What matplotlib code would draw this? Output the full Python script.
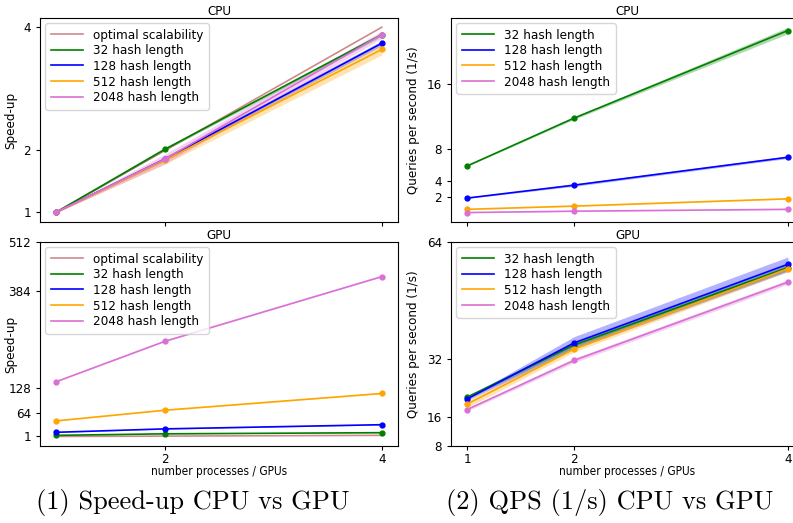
import matplotlib.pyplot as plt
import numpy as np

plt.rcParams['font.family'] = ['DejaVu Sans']
plt.rcParams['font.stretch'] = 'condensed'

procs = [1, 2, 4]
hash_labels = ['32 hash length', '128 hash length', '512 hash length', '2048 hash length']
colors = ['green', 'blue', 'orange', 'orchid']
optimal = [1, 2, 4]

# speed-up, CPU (one row per hash length)
cpu_speedup = [[1.0, 2.02, 3.88],
               [1.0, 1.86, 3.74],
               [1.0, 1.84, 3.64],
               [1.0, 1.86, 3.88]]
cpu_speedup_err = [[0.01, 0.02, 0.03],
                   [0.01, 0.03, 0.04],
                   [0.01, 0.06, 0.09],
                   [0.01, 0.08, 0.06]]

# speed-up, GPU
gpu_speedup = [[4, 8, 11],
               [12, 21, 32],
               [42, 70, 114],
               [145, 251, 421]]
gpu_speedup_err = [[0.5, 0.5, 0.5],
                   [0.5, 0.8, 1.0],
                   [0.5, 0.8, 1.0],
                   [0.5, 1.0, 1.0]]

# queries per second, CPU
cpu_qps = [[5.85, 11.77, 22.6],
           [1.88, 3.48, 6.93],
           [0.49, 0.89, 1.79],
           [0.09, 0.26, 0.49]]
cpu_qps_err = [[0.05, 0.15, 0.4],
               [0.05, 0.15, 0.15],
               [0.03, 0.05, 0.05],
               [0.02, 0.03, 0.05]]

# queries per second, GPU
gpu_qps = [[21.4, 35.7, 57.0],
           [20.9, 36.3, 57.9],
           [19.5, 34.6, 56.7],
           [18.0, 31.5, 53.0]]
gpu_qps_err = [[0.4, 0.8, 0.8],
               [0.4, 1.7, 2.0],
               [1.0, 0.8, 0.8],
               [0.4, 0.6, 0.6]]


def draw(ax, vals, errs, with_optimal):
    if with_optimal:
        ax.plot(procs, optimal, color='brown', alpha=0.55, lw=1.2, label='optimal scalability')
    for v, e, c, lab in zip(vals, errs, colors, hash_labels):
        v = np.array(v)
        e = np.array(e)
        ax.plot(procs, v, color=c, lw=1.2, label=lab)
        ax.plot(procs, v, 'o', color=c, ms=3.5)
        ax.fill_between(procs, v - e, v + e, color=c, alpha=0.3, lw=0)
    ax.legend(loc='upper left', fontsize=9.6, handlelength=2.4, labelspacing=0.2,
              borderaxespad=0.4)
    ax.tick_params(labelsize=9.5, length=3)
    ax.tick_params(axis='x', pad=2)


fig = plt.figure(figsize=(7.93, 5.23), dpi=100)
W, H = 793, 523


def box(l, r, t, b):
    return [l / W, 1 - b / H, (r - l) / W, (b - t) / H]


ax1 = fig.add_axes(box(40, 398, 18, 222))
ax2 = fig.add_axes(box(451, 804, 18, 222))
ax3 = fig.add_axes(box(40, 398, 242, 446))
ax4 = fig.add_axes(box(451, 804, 242, 446))

draw(ax1, cpu_speedup, cpu_speedup_err, True)
ax1.set_yticks([1, 2, 4])
ax1.set_xticks([2, 4])
ax1.set_xticklabels([])
ax1.set_ylabel('Speed-up', fontsize=9.5)
ax1.set_title('CPU', fontsize=9.5, pad=2)

draw(ax3, gpu_speedup, gpu_speedup_err, True)
ax3.set_ylim(-24, 512)
ax3.set_yticks([1, 64, 128, 384, 512])
ax3.set_xticks([2, 4])
ax3.set_ylabel('Speed-up', fontsize=9.5)
ax3.set_title('GPU', fontsize=9.5, pad=2)
ax3.set_xlabel('number processes / GPUs', fontsize=8.5)

draw(ax2, cpu_qps, cpu_qps_err, False)
ax2.set_yticks([2, 4, 8, 16])
ax2.set_xticks([1, 2, 4])
ax2.set_xticklabels([])
ax2.set_ylabel('Queries per second (1/s)', fontsize=9.5)
ax2.set_title('CPU', fontsize=9.5, pad=2)

draw(ax4, gpu_qps, gpu_qps_err, False)
ax4.set_ylim(8, 64)
ax4.set_yticks([8, 16, 32, 64])
ax4.set_xticks([1, 2, 4])
ax4.set_ylabel('Queries per second (1/s)', fontsize=9.5)
ax4.set_title('GPU', fontsize=9.5, pad=2)
ax4.set_xlabel('number processes / GPUs', fontsize=8.5)

for ax in (ax1, ax3):
    ax.yaxis.set_label_coords(-0.064, 0.5)
for ax in (ax2, ax4):
    ax.yaxis.set_label_coords(-0.088, 0.5)
for ax in (ax3, ax4):
    ax.xaxis.set_label_coords(0.5, -0.095)

fig.text(193 / W, 1 - 503 / H, '(1) Speed-up CPU vs GPU', family='cmr10', fontsize=19,
         ha='center', va='center')
fig.text(610 / W, 1 - 503 / H, '(2) QPS (1/s) CPU vs GPU', family='cmr10', fontsize=19,
         ha='center', va='center')

fig.savefig('out.png', dpi=100)
